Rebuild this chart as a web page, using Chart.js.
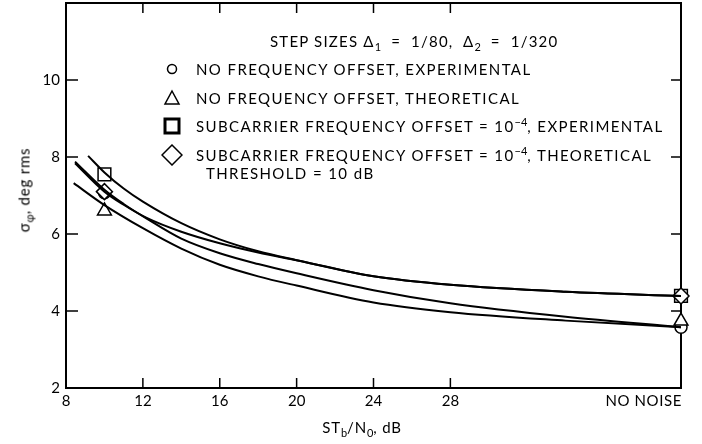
<!DOCTYPE html>
<html>
<head>
<meta charset="utf-8">
<script src="https://cdn.jsdelivr.net/npm/chart.js@4.4.1/dist/chart.umd.min.js"></script>
<style>
  html, body { margin: 0; padding: 0; background: #fff; }
  #wrap { position: relative; width: 702px; height: 444px; font-family: Lato, "Noto Sans", sans-serif; color: #000; }
  #chart { position: absolute; left: 0; top: 0; }
  .lbl { position: absolute; white-space: nowrap; font-size: 15px; line-height: 1; letter-spacing: 1.4px; }
  .lbl sub { font-size: 11px; vertical-align: -4px; line-height: 0; letter-spacing: 0; }
  .lbl sup { font-size: 11px; vertical-align: 6px; line-height: 0; letter-spacing: 0; }
  .mk { position: absolute; }
</style>
</head>
<body>
<div id="wrap">
  <canvas id="chart" width="702" height="444"></canvas>

  <div class="lbl" id="ytitle" style="left:24px; top:190px; letter-spacing:0.8px; transform: translate(-50%,-50%) rotate(-90deg);">σ<sub>φ</sub>, deg rms</div>
  <div class="lbl" id="xtitle" style="left:362px; top:427px; letter-spacing:0.8px; transform: translate(-50%,-50%);">ST<sub>b</sub>/N<sub>0</sub>, dB</div>
  <div class="lbl" id="nonoise" style="right:20px; top:393px; letter-spacing:0.6px;">NO NOISE</div>

  <div class="lbl" style="left:270px; top:34px; letter-spacing:1.2px;">STEP SIZES Δ<sub>1</sub>&nbsp; = &nbsp;1/80, &nbsp;Δ<sub>2</sub>&nbsp; = &nbsp;1/320</div>

  <svg class="mk" style="left:164px; top:61px;" width="16" height="16"><circle cx="8" cy="8" r="4.5" fill="none" stroke="#000" stroke-width="1.5"/></svg>
  <div class="lbl" style="left:196px; top:62px;">NO FREQUENCY OFFSET, EXPERIMENTAL</div>

  <svg class="mk" style="left:163px; top:89px;" width="18" height="18"><polygon points="9,2 16,15 2,15" fill="none" stroke="#000" stroke-width="1.5"/></svg>
  <div class="lbl" style="left:196px; top:91px;">NO FREQUENCY OFFSET, THEORETICAL</div>

  <svg class="mk" style="left:162px; top:116px;" width="20" height="20"><rect x="3" y="3" width="14" height="14" fill="none" stroke="#000" stroke-width="3"/></svg>
  <div class="lbl" style="left:196px; top:119px;">SUBCARRIER FREQUENCY OFFSET = 10<sup>−4</sup>, EXPERIMENTAL</div>

  <svg class="mk" style="left:161px; top:144px;" width="22" height="22"><polygon points="11,1 21,11 11,21 1,11" fill="none" stroke="#000" stroke-width="1.5"/></svg>
  <div class="lbl" style="left:196px; top:148px;">SUBCARRIER FREQUENCY OFFSET = 10<sup>−4</sup>, THEORETICAL</div>
  <div class="lbl" style="left:206px; top:166px;">THRESHOLD = 10 dB</div>
</div>

<script>
// axis ticks
const xTicks = [8, 12, 16, 20, 24, 28, 40];
const yTicks = [2, 4, 6, 8, 10];
const xInnerTicks = [12, 16, 20, 24, 28];
const yInnerTicks = [4, 6, 8, 10];

// fitted curves (x = ST_b/N_0 dB, 40 stands for "no noise")
const offsetExpX = [9.15, 10, 11, 12, 14, 16, 18, 20, 24, 28, 34, 40];
const offsetExpY = [8.03, 7.6, 7.18, 6.84, 6.28, 5.86, 5.55, 5.32, 4.9, 4.68, 4.5, 4.39];

const offsetTheoX = [8.47, 10, 11, 12.2, 14, 16, 18, 20, 24, 28, 34, 40];
const offsetTheoY = [7.84, 7.1, 6.76, 6.42, 6.06, 5.76, 5.52, 5.32, 4.9, 4.68, 4.5, 4.39];

const noOffsetExpX = [8.47, 10, 11, 12.2, 14, 16, 18, 20, 24, 28, 34, 40];
const noOffsetExpY = [7.88, 7.15, 6.78, 6.4, 5.88, 5.5, 5.22, 4.98, 4.54, 4.2, 3.85, 3.58];

const noOffsetTheoX = [8.4, 10, 12, 14, 16, 18, 20, 24, 28, 34, 40];
const noOffsetTheoY = [7.32, 6.75, 6.15, 5.62, 5.2, 4.9, 4.66, 4.22, 3.97, 3.75, 3.58];

// plotted symbols
const circleX = [10, 40];
const circleY = [7.07, 3.58];
const triangleX = [10, 40];
const triangleY = [6.6, 3.74];
const squareX = [10, 40];
const squareY = [7.55, 4.39];
const diamondX = [10, 40];
const diamondY = [7.1, 4.39];

const pts = (xs, ys) => xs.map((x, i) => ({ x: x, y: ys[i] }));

function curve(xs, ys) {
  return {
    type: "line",
    data: pts(xs, ys),
    borderColor: "#000",
    borderWidth: 2,
    pointRadius: 0,
    fill: false,
    cubicInterpolationMode: "monotone"
  };
}

function marker(xs, ys, style, r) {
  return {
    type: "scatter",
    data: pts(xs, ys),
    pointStyle: style,
    pointRadius: r,
    pointBorderWidth: 1.5,
    pointBorderColor: "#000",
    pointBackgroundColor: "#fff",
    showLine: false,
    clip: false
  };
}

// frame + inward tick marks on all four sides
const framePlugin = {
  id: "frame",
  beforeDatasetsDraw(chart) {
    const { ctx, chartArea: a, scales } = chart;
    ctx.save();
    ctx.strokeStyle = "#000";
    ctx.lineWidth = 2;
    ctx.strokeRect(a.left, a.top, a.right - a.left, a.bottom - a.top);
    ctx.lineWidth = 1.5;
    ctx.beginPath();
    xInnerTicks.forEach(v => {
      const px = scales.x.getPixelForValue(v);
      ctx.moveTo(px, a.bottom); ctx.lineTo(px, a.bottom - 10);
      ctx.moveTo(px, a.top); ctx.lineTo(px, a.top + 10);
    });
    yInnerTicks.forEach(v => {
      const py = scales.y.getPixelForValue(v);
      ctx.moveTo(a.left, py); ctx.lineTo(a.left + 12, py);
      ctx.moveTo(a.right, py); ctx.lineTo(a.right - 10, py);
    });
    ctx.stroke();
    ctx.restore();
  }
};

new Chart(document.getElementById("chart"), {
  type: "scatter",
  data: {
    datasets: [
      curve(offsetExpX, offsetExpY),
      curve(offsetTheoX, offsetTheoY),
      curve(noOffsetExpX, noOffsetExpY),
      curve(noOffsetTheoX, noOffsetTheoY),
      marker(diamondX, diamondY, "rectRot", 8),
      marker(squareX, squareY, "rect", 9),
      marker(triangleX, triangleY, "triangle", 8),
      marker(circleX, circleY, "circle", 6)
    ]
  },
  options: {
    responsive: false,
    animation: false,
    layout: { autoPadding: false, padding: { top: 3, right: 21, left: 0, bottom: 0 } },
    plugins: { legend: { display: false }, tooltip: { enabled: false } },
    scales: {
      x: {
        type: "linear",
        min: 8,
        max: 40,
        afterBuildTicks: s => { s.ticks = xTicks.map(v => ({ value: v })); },
        afterFit: s => { s.height = 56; },
        grid: { display: false, drawTicks: false },
        border: { display: false },
        ticks: {
          color: "#000",
          font: { family: "Lato", size: 15 },
          padding: 4,
          maxRotation: 0,
          autoSkip: false,
          callback: v => (v === 40 ? "" : String(v))
        }
      },
      y: {
        min: 2,
        max: 12,
        afterBuildTicks: s => { s.ticks = yTicks.map(v => ({ value: v })); },
        afterFit: s => { s.width = 66; s.paddingTop = 0; s.paddingBottom = 0; },
        grid: { display: false, drawTicks: false },
        border: { display: false },
        ticks: { color: "#000", font: { family: "Lato", size: 15, lineHeight: 0.4 }, padding: 6 }
      }
    }
  },
  plugins: [framePlugin]
});
</script>
</body>
</html>
